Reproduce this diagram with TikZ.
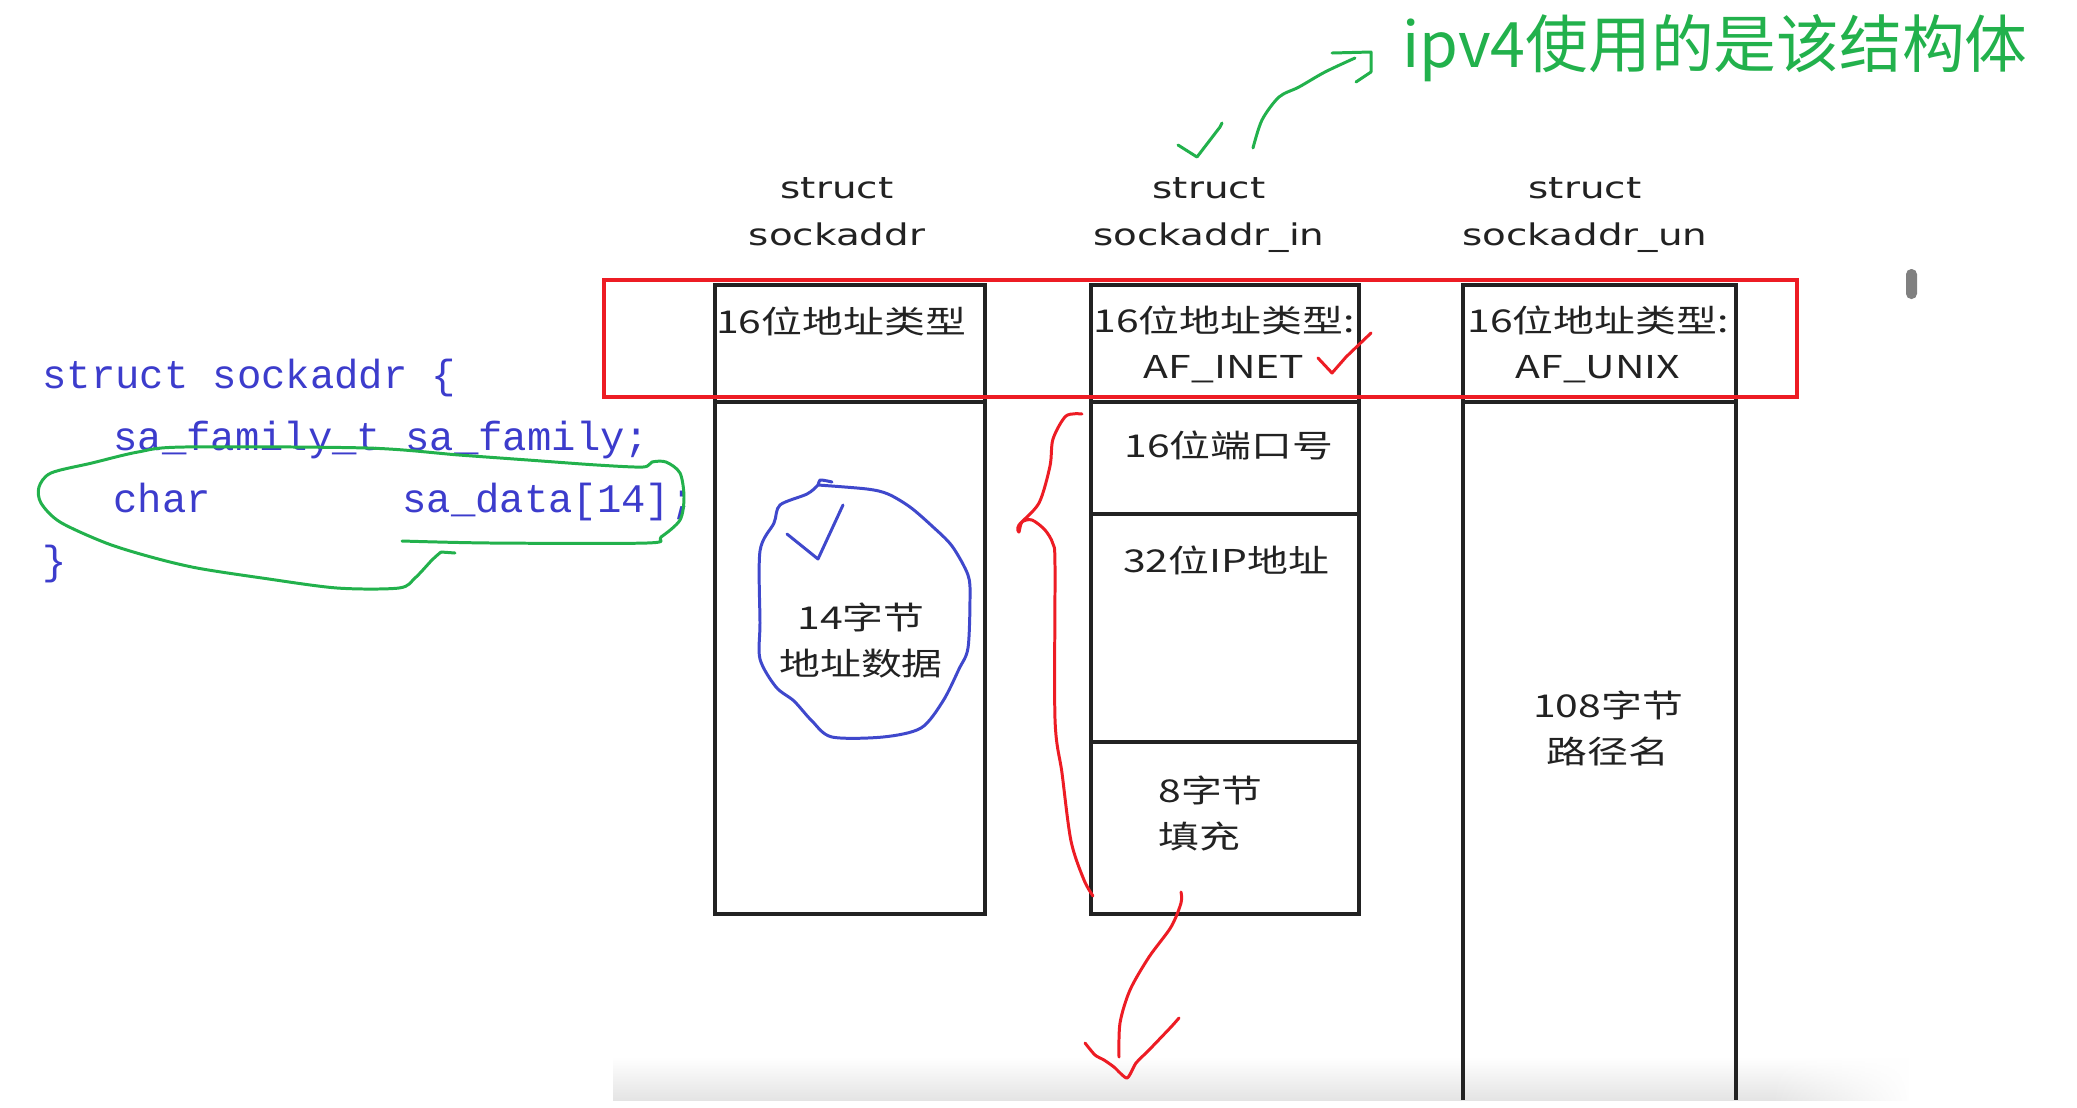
\documentclass[tikz,border=0pt]{standalone}
\usepackage{fontspec}
\usetikzlibrary{fadings}
\setmainfont{DejaVu Sans}
\newfontfamily\cellfont{Noto Sans CJK SC}[FakeStretch=1.3]
\newfontfamily\headfont{DejaVu Sans}[FakeStretch=1.3]
\newfontfamily\codefont{Liberation Mono}
\newfontfamily\notefont{Noto Sans CJK SC}
\definecolor{InkDark}{HTML}{222222}
\definecolor{PaintRed}{HTML}{ED1C24}
\definecolor{PaintGreen}{HTML}{22B14C}
\definecolor{PaintBlue}{HTML}{3F48CC}
\definecolor{CodeBlue}{HTML}{3C3CCC}
\definecolor{ScrollGrey}{HTML}{808080}
\definecolor{ShadeGrey}{HTML}{E4E4E4}

\begin{document}
\begin{tikzpicture}[x=0.02cm, y=-0.02cm,
    cellbox/.style={draw=InkDark, line width=2.6pt},
    celltext/.style={inner sep=0pt, anchor=base, align=center, text=InkDark, font=\cellfont\fontsize{17.9pt}{26pt}\selectfont},
    headtext/.style={inner sep=0pt, anchor=base, align=center, text=InkDark, font=\headfont\fontsize{17pt}{26.6pt}\selectfont},
    codetext/.style={inner sep=0pt, anchor=base west, text=CodeBlue, font=\codefont\fontsize{23.1pt}{28pt}\selectfont},
    notetext/.style={inner sep=0pt, anchor=base west, text=PaintGreen, font=\notefont\fontsize{35.7pt}{40pt}\selectfont},
    redmark/.style={draw=PaintRed, line width=1.7pt, line cap=round, line join=round},
    greenmark/.style={draw=PaintGreen, line width=1.7pt, line cap=round, line join=round},
    bluemark/.style={draw=PaintBlue, line width=1.7pt, line cap=round, line join=round},
    framebox/.style={draw=PaintRed, line width=2.3pt}
]

\useasboundingbox (0,0) rectangle (2077,1107);
\fill[white] (0,0) rectangle (2077,1107);

\shade[top color=white, bottom color=ShadeGrey] (613,1057) rectangle (1908,1100);
\fill[white, path fading=west] (1770,1050) rectangle (1912,1101);
\fill[ScrollGrey, rounded corners=3pt] (1906,269) rectangle (1917,299);

\draw[cellbox] (715,285) rectangle (985,914);
\draw[cellbox] (715,402) -- (985,402);

\draw[cellbox] (1091,285) rectangle (1359,914);
\draw[cellbox] (1091,402) -- (1359,402);
\draw[cellbox] (1091,514) -- (1359,514);
\draw[cellbox] (1091,742) -- (1359,742);

\draw[cellbox] (1463,1100) -- (1463,285) -- (1736,285) -- (1736,1100);
\draw[cellbox] (1463,402) -- (1736,402);

\draw[framebox] (604,280) rectangle (1797,397);

\node[headtext] (hdrplain) at (837,245) {struct\\sockaddr};
\node[headtext] (hdrinet) at (1209,245) {struct\\sockaddr\_in};
\node[headtext] (hdrunix) at (1585,245) {struct\\sockaddr\_un};

\node[celltext] (famplain) at (841,333) {16位地址类型};
\node[celltext] (faminet) at (1224,378) {16位地址类型:\\AF\_INET};
\node[celltext] (famunix) at (1598,378) {16位地址类型:\\AF\_UNIX};

\node[celltext] (dataplain) at (861,675) {14字节\\地址数据};
\node[celltext] (portinet) at (1229,457) {16位端口号};
\node[celltext] (addrinet) at (1226,572) {32位IP地址};
\node[celltext, anchor=base west, align=left] (padinet) at (1158,848) {8字节\\填充};
\node[celltext] (pathunix) at (1608,763) {108字节\\路径名};

\node[codetext] (codeopen) at (42,388) {struct sockaddr \{};
\node[codetext] (codefamily) at (113,450) {sa\_family\_t sa\_family;};
\node[codetext] (codechar) at (113,512) {char};
\node[codetext] (codedata) at (402,512) {sa\_data[14];};
\node[codetext] (codeclose) at (42,574) {\}};

\node[notetext] (noteipv4) at (1402,67) {ipv4使用的是该结构体};

\draw[greenmark] plot[smooth, tension=0.5] coordinates {(402,541) (491,543) (647,543) (661,537) (680,520) (684,497) (680,473) (666,462) (652,462) (643,467) (597,465) (528,460) (459,455) (367,448) (184,447) (138,452) (92,463) (51,473) (39,487) (41,503) (60,522) (106,543) (151,557) (197,568) (262,578) (337,588) (399,588) (415,578) (432,560) (441,552)};
\draw[greenmark] (441,552) -- (455,553);

\draw[greenmark] plot[smooth, tension=0.5] coordinates {(1253,148) (1262,120) (1279,97) (1299,87) (1325,72) (1355,58)};
\draw[greenmark] (1332,53) -- (1371,52) -- (1371,72) -- (1356,82);
\draw[greenmark] (1178,145) -- (1197,157) -- (1220,127) -- (1222,123);

\draw[bluemark] plot[smooth, tension=0.5] coordinates {(832,482) (820,480) (818,485) (807,494) (780,505) (774,523) (760,551) (760,623) (760,659) (776,687) (794,701) (812,721) (832,737) (883,737) (921,728) (943,701) (959,669) (968,648) (970,598) (968,575) (952,546) (932,526) (910,507) (888,494) (867,489) (818,485)};
\draw[bluemark] (787,534) -- (818,559) -- (843,505);

\draw[redmark] (1318,358) -- (1332,373) -- (1346,357) -- (1371,333);
\draw[redmark] plot[smooth, tension=0.5] coordinates {(1082,414) (1066,416) (1053,439) (1050,466) (1039,503) (1019,525) (1019,532) (1022,522) (1032,520) (1045,530) (1053,544) (1055,566) (1055,719) (1062,773) (1071,841) (1084,880) (1093,896)};
\draw[redmark] plot[smooth, tension=0.5] coordinates {(1181,892) (1181,903) (1171,927) (1149,957) (1130,990) (1120,1023) (1119,1057)};
\draw[redmark] plot[smooth, tension=0.4] coordinates {(1085,1043) (1095,1055) (1104,1060) (1114,1067) (1127,1078) (1136,1063) (1149,1050) (1171,1027) (1179,1018)};

\end{tikzpicture}
\end{document}
